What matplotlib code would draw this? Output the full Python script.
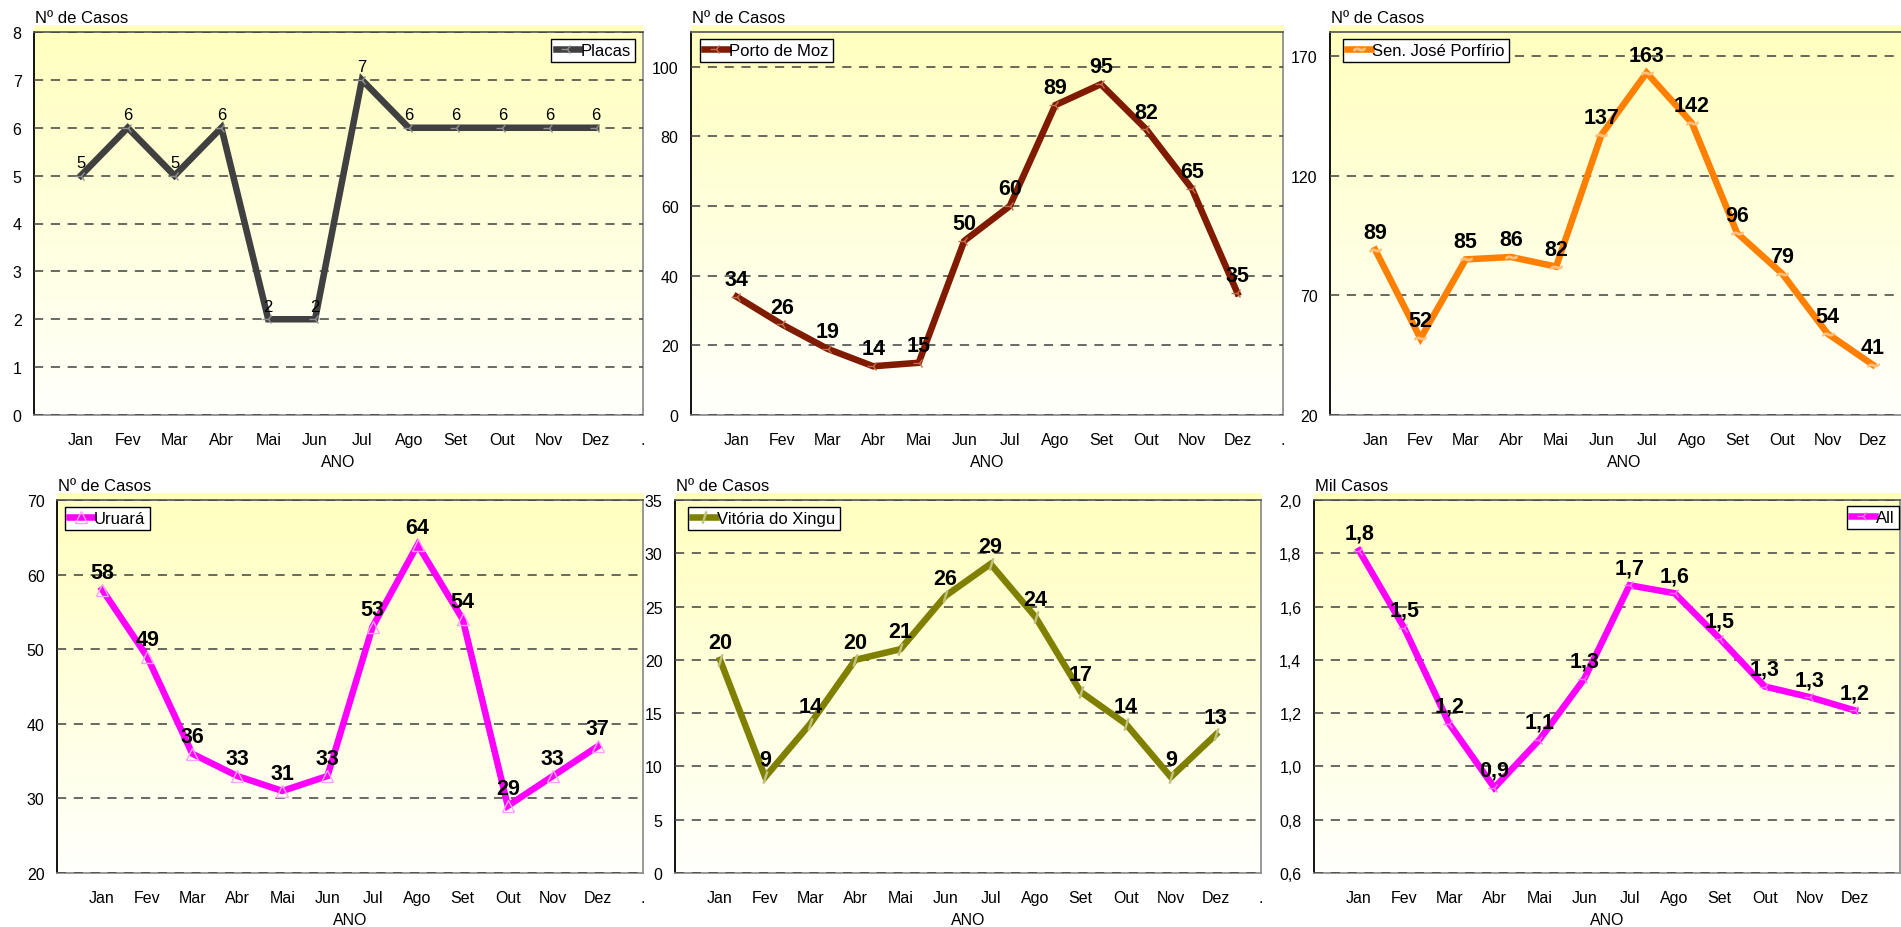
#!/usr/bin/env python3
"""Monthly case counts per municipality, six line panels in a 2x3 grid."""

import matplotlib

matplotlib.use("Agg")
import matplotlib.pyplot as plt
import numpy as np
from matplotlib.ticker import FuncFormatter

W, H = 1901, 928
DPI = 100

MONTHS = ["Jan", "Fev", "Mar", "Abr", "Mai", "Jun", "Jul", "Ago", "Set", "Out", "Nov", "Dez"]

placas = [5, 6, 5, 6, 2, 2, 7, 6, 6, 6, 6, 6]
porto_de_moz = [34, 26, 19, 14, 15, 50, 60, 89, 95, 82, 65, 35]
sen_jose_porfirio = [89, 52, 85, 86, 82, 137, 163, 142, 96, 79, 54, 41]
uruara = [58, 49, 36, 33, 31, 33, 53, 64, 54, 29, 33, 37]
vitoria_do_xingu = [20, 9, 14, 20, 21, 26, 29, 24, 17, 14, 9, 13]
all_mil = [1.81, 1.52, 1.16, 0.92, 1.10, 1.33, 1.68, 1.65, 1.48, 1.30, 1.26, 1.21]

plt.rcParams["font.family"] = ["Liberation Sans", "DejaVu Sans"]
plt.rcParams["font.size"] = 11


def px_rect(left, top, right, bottom):
    return [left / W, 1 - bottom / H, (right - left) / W, (bottom - top) / H]


def comma(v, _pos=None):
    return f"{v:.1f}".replace(".", ",")


def draw_panel(fig, rect, values, name, color, mcolor, marker, yticks, ylim,
               ylabel="Nº de Casos", legend_loc="upper left", legend_xy=None,
               label_bold=True, fmt=None, end_dot=True):
    ax = fig.add_axes(px_rect(*rect))
    x = np.arange(1, len(values) + 1)

    # soft yellow-to-white fill behind the plot area (spills a bit over the top)
    grad = np.linspace(0, 1, 256).reshape(-1, 1)
    top = np.array([255, 255, 190]) / 255
    bot = np.array([255, 255, 252]) / 255
    img = top + (bot - top) * grad[:, :, None] * np.ones((1, 1, 3))
    ax_h = rect[3] - rect[1]
    ax.imshow(img, extent=(0, 1, 0, 1 + 7 / ax_h), transform=ax.transAxes,
              aspect="auto", zorder=0, clip_on=False)

    ax.plot(x, values, color=color, lw=4.7, solid_joinstyle="miter",
            marker=marker, ms=8, mfc="none", mec=mcolor, mew=1.0,
            zorder=3, label=name)

    ax.set_xlim(0, 13)
    ax.set_ylim(*ylim)
    ax.set_xticks(list(range(1, 14)))
    ax.set_xticklabels(MONTHS + (["."] if end_dot else [""]))
    ax.set_yticks(yticks)
    if fmt:
        ax.yaxis.set_major_formatter(FuncFormatter(fmt))
    ax.tick_params(axis="both", length=0, labelsize=11.5)
    ax.tick_params(axis="x", pad=12)
    ax.tick_params(axis="y", pad=9)
    ax.set_xlabel("ANO", fontsize=11.5, labelpad=5)

    ax.yaxis.grid(True, color="#404040", lw=1.1, linestyle=(0, (6, 5)))
    ax.set_axisbelow(False)
    for gl in ax.get_ygridlines():
        gl.set_zorder(1)

    ax.spines["left"].set_color("black")
    ax.spines["top"].set_color("#606060")
    ax.spines["right"].set_color("#909090")
    ax.spines["bottom"].set_color("#909090")
    for sp in ax.spines.values():
        sp.set_linewidth(1.3)
        sp.set_zorder(2)

    ax.annotate(ylabel, xy=(0, 1), xycoords="axes fraction",
                xytext=(1, 5), textcoords="offset points",
                ha="left", va="bottom", fontsize=12)

    for xi, v in zip(x, values):
        text = fmt(v) if fmt else f"{v}"
        if label_bold:
            ax.annotate(text, (xi, v), xytext=(0, 5), textcoords="offset points",
                        ha="center", va="bottom", fontsize=15.5,
                        fontweight="bold", zorder=4)
        else:
            ax.annotate(text, (xi, v), xytext=(0, 4), textcoords="offset points",
                        ha="center", va="bottom", fontsize=12, zorder=4)

    leg = ax.legend(loc=legend_loc, bbox_to_anchor=(legend_xy[0] / W, 1 - legend_xy[1] / H),
                    bbox_transform=fig.transFigure, borderaxespad=0,
                    fancybox=False, framealpha=1, edgecolor="black",
                    handlelength=1.4, handletextpad=0.1, borderpad=0.25,
                    fontsize=12)
    leg.get_frame().set_linewidth(1.0)
    leg.set_zorder(5)
    return ax


fig = plt.figure(figsize=(W / DPI, H / DPI), dpi=DPI)
fig.patch.set_facecolor("white")

draw_panel(fig, (34, 33, 643, 416), placas, "Placas", "#404040", "#909090", "3",
           yticks=range(0, 9), ylim=(0, 8), legend_loc="upper right",
           legend_xy=(635, 40), label_bold=False)
draw_panel(fig, (691, 33, 1283, 416), porto_de_moz, "Porto de Moz", "#801a00", "#c07050", "3",
           yticks=range(0, 101, 20), ylim=(0, 110), legend_xy=(700, 40))
draw_panel(fig, (1330, 33, 1918, 416), sen_jose_porfirio, "Sen. José Porfírio", "#ff8000",
           "#ffc080", "$\\sim$", yticks=range(20, 171, 50), ylim=(20, 180),
           legend_xy=(1343, 40), end_dot=False)
draw_panel(fig, (57, 501, 643, 874), uruara, "Uruará", "#ff00ff", "#ffa0ff", "^",
           yticks=range(20, 71, 10), ylim=(20, 70), legend_xy=(65, 508))
draw_panel(fig, (675, 501, 1261, 874), vitoria_do_xingu, "Vitória do Xingu", "#808000",
           "#c0c080", "$/$", yticks=range(0, 36, 5), ylim=(0, 35), legend_xy=(688, 508))
draw_panel(fig, (1314, 501, 1900, 874), all_mil, "All", "#ff00ff", "#ff70ff", "3",
           yticks=np.arange(0.6, 2.01, 0.2), ylim=(0.6, 2.0), ylabel="Mil Casos",
           legend_loc="upper right", legend_xy=(1899, 507), fmt=comma, end_dot=False)

fig.savefig("out.png", dpi=DPI)
